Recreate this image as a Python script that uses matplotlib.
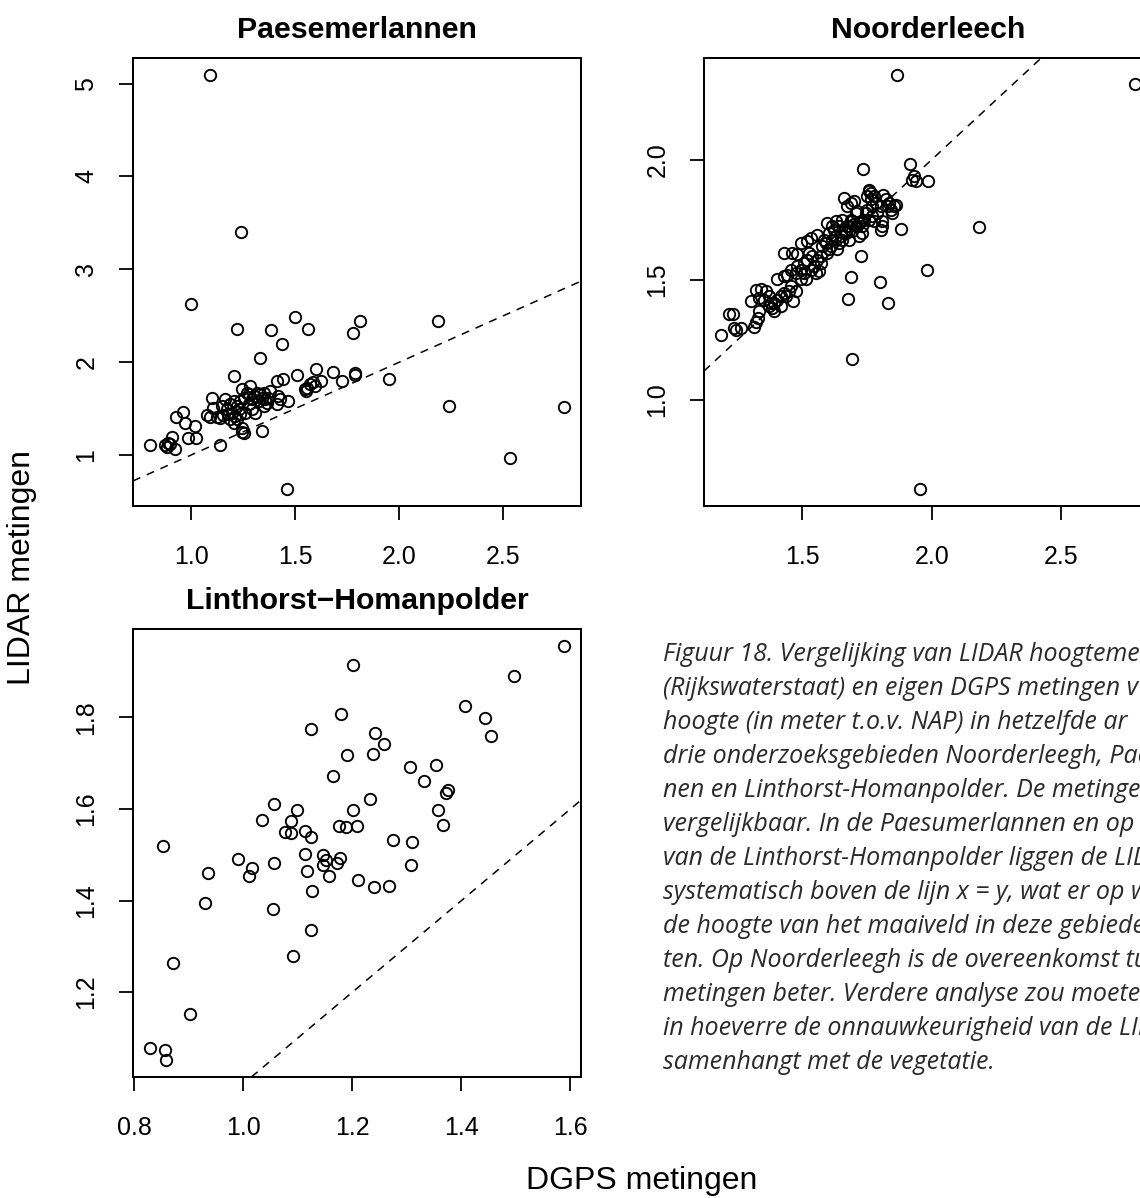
import matplotlib
matplotlib.use("Agg")
import matplotlib.pyplot as plt
from matplotlib.ticker import FixedLocator, FixedFormatter

# ---------------- data ----------------
titles = ["Paesemerlannen", "Noorderleech", "Linthorst\u2212Homanpolder"]

pae_x = [1.091, 1.242, 1.000, 1.223, 1.385, 1.498, 1.5625, 1.439, 1.329, 1.8125, 1.779, 2.1875,
         1.207, 1.949, 2.240, 2.793, 2.534, 1.4615, 0.801, 1.138, 1.343,
         0.875, 0.883, 0.891, 0.899, 0.907, 0.923,
         0.928, 0.960, 0.971, 1.019, 0.987, 1.024,
         1.247, 1.252, 1.244,
         1.508, 1.601, 1.684, 1.726, 1.785, 1.788,
         1.551, 1.556, 1.572, 1.585, 1.625, 1.596, 1.548,
         1.412, 1.441,
         1.103, 1.107, 1.079, 1.091, 1.127, 1.155,
         1.163, 1.188, 1.171, 1.196, 1.212, 1.220, 1.188, 1.204, 1.228, 1.244, 1.252, 1.276,
         1.284, 1.300, 1.316, 1.324, 1.340, 1.348, 1.308, 1.380, 1.412, 1.428, 1.468, 1.236,
         1.260, 1.292, 1.332, 1.356, 1.147, 1.179, 1.220, 1.268, 1.364,
         1.139, 1.204, 1.236, 1.292, 1.348, 1.420, 1.372, 1.276]
pae_y = [5.097, 3.407, 2.629, 2.360, 2.349, 2.489, 2.360, 2.191, 2.040, 2.439, 2.309, 2.439,
         1.850, 1.8215, 1.531, 1.520, 0.964, 0.630, 1.104, 1.104, 1.258,
         1.104, 1.090, 1.133, 1.115, 1.197, 1.068,
         1.409, 1.463, 1.348, 1.312, 1.187, 1.187,
         1.294, 1.240, 1.248,
         1.861, 1.922, 1.893, 1.800, 1.886, 1.861,
         1.689, 1.725, 1.761, 1.786, 1.800, 1.743, 1.707,
         1.800, 1.822,
         1.610, 1.509, 1.430, 1.409, 1.409, 1.427,
         1.606, 1.545, 1.491, 1.456, 1.420, 1.384, 1.384, 1.348, 1.491, 1.707, 1.617, 1.545,
         1.743, 1.635, 1.671, 1.581, 1.617, 1.527, 1.456, 1.689, 1.545, 1.599, 1.581, 1.438,
         1.456, 1.599, 1.653, 1.599, 1.527, 1.438, 1.527, 1.671, 1.563,
         1.402, 1.581, 1.581, 1.491, 1.671, 1.635, 1.617, 1.653]

noo_x = [1.865, 2.787, 2.182, 1.981, 1.956, 1.693, 1.678, 1.689, 1.8015, 1.831, 1.728, 1.880,
         1.733, 1.916, 1.932, 1.938, 1.925, 1.987,
         1.184, 1.216, 1.232, 1.236, 1.242, 1.264, 1.313, 1.320, 1.329, 1.332,
         1.300, 1.320, 1.339, 1.358, 1.371, 1.378, 1.384, 1.390, 1.403, 1.416, 1.429, 1.448,
         1.465, 1.474, 1.403, 1.429, 1.442, 1.455, 1.474, 1.481, 1.494, 1.506, 1.513, 1.519,
         1.532, 1.545, 1.558, 1.564, 1.571, 1.429, 1.461, 1.481, 1.494, 1.519, 1.532, 1.558,
         1.577, 1.584, 1.597, 1.603, 1.610, 1.616, 1.622, 1.629, 1.635, 1.642, 1.648, 1.655,
         1.661, 1.674, 1.680, 1.687, 1.693, 1.700, 1.706, 1.713, 1.719, 1.726, 1.732, 1.738,
         1.751, 1.758, 1.764, 1.771, 1.777, 1.784, 1.790, 1.803, 1.809, 1.813, 1.822, 1.829,
         1.835, 1.842, 1.848, 1.854, 1.861, 1.809, 1.803, 1.659, 1.674, 1.687, 1.700, 1.713,
         1.745, 1.758, 1.771, 1.777,
         1.590, 1.603, 1.616, 1.629, 1.642, 1.655, 1.668, 1.680, 1.693, 1.706, 1.719, 1.732,
         1.597, 1.571, 1.552, 1.539, 1.526, 1.506, 1.494, 1.455, 1.436, 1.416, 1.390, 1.371,
         1.352, 1.332, 1.758, 1.751, 1.764]
noo_y = [2.354, 2.315, 1.721, 1.541, 0.627, 1.169, 1.420, 1.510, 1.491, 1.401, 1.600, 1.712,
         1.963, 1.982, 1.931, 1.910, 1.917, 1.913,
         1.269, 1.359, 1.359, 1.300, 1.290, 1.298, 1.302, 1.323, 1.341, 1.369,
         1.411, 1.459, 1.462, 1.452, 1.431, 1.404, 1.383, 1.369, 1.417, 1.431, 1.445, 1.452,
         1.411, 1.452, 1.501, 1.515, 1.521, 1.542, 1.528, 1.556, 1.542, 1.570, 1.501, 1.584,
         1.542, 1.556, 1.584, 1.535, 1.598, 1.612, 1.612, 1.605, 1.653, 1.660, 1.674, 1.688,
         1.639, 1.667, 1.736, 1.695, 1.639, 1.667, 1.709, 1.743, 1.626, 1.723, 1.681, 1.750,
         1.702, 1.723, 1.667, 1.750, 1.702, 1.730, 1.778, 1.723, 1.681, 1.743, 1.695, 1.750,
         1.792, 1.875, 1.834, 1.806, 1.847, 1.820, 1.778, 1.806, 1.723, 1.854, 1.834, 1.806,
         1.820, 1.792, 1.778, 1.806, 1.813, 1.743, 1.709, 1.841, 1.806, 1.820, 1.827, 1.785,
         1.778, 1.750, 1.764, 1.743,
         1.653, 1.626, 1.723, 1.681, 1.653, 1.667, 1.695, 1.723, 1.743, 1.723, 1.736, 1.723,
         1.612, 1.570, 1.528, 1.598, 1.612, 1.528, 1.501, 1.473, 1.431, 1.390, 1.404, 1.390,
         1.417, 1.424, 1.868, 1.847, 1.861]

lin_x = [1.589, 1.202, 1.496, 1.406, 1.1786, 1.444, 1.454, 1.125, 1.2416, 1.258, 1.190, 1.237,
         1.306, 1.354, 1.332, 1.164, 1.376, 1.3725, 1.233, 1.358, 1.366, 1.201, 1.056, 1.099,
         1.035, 1.0875, 1.076, 1.088, 1.113, 1.1235, 1.1755, 1.188, 1.208, 1.275, 1.310, 1.3076,
         0.852, 0.9896, 1.016, 1.010, 0.935, 1.057, 1.113, 1.146, 1.151, 1.147, 1.172, 1.177,
         1.117, 1.158, 1.210, 1.240, 1.268, 1.1266, 0.9297, 1.054, 1.125, 1.092, 0.871, 0.9015,
         0.828, 0.857, 0.858]
lin_y = [1.957, 1.914, 1.891, 1.826, 1.808, 1.7985, 1.759, 1.774, 1.766, 1.742, 1.717, 1.720,
         1.692, 1.697, 1.661, 1.6726, 1.642, 1.634, 1.6216, 1.597, 1.566, 1.598, 1.610, 1.5976,
         1.577, 1.573, 1.550, 1.547, 1.552, 1.538, 1.562, 1.560, 1.562, 1.533, 1.528, 1.478,
         1.520, 1.490, 1.471, 1.453, 1.461, 1.482, 1.502, 1.499, 1.488, 1.478, 1.482, 1.493,
         1.464, 1.453, 1.446, 1.429, 1.432, 1.4214, 1.394, 1.381, 1.3354, 1.280, 1.263, 1.152,
         1.079, 1.073, 1.051]

pae_xticks = [1.0, 1.5, 2.0, 2.5]
pae_yticks = [1, 2, 3, 4, 5]
noo_xticks = [1.5, 2.0, 2.5]
noo_yticks = [1.0, 1.5, 2.0]
lin_xticks = [0.8, 1.0, 1.2, 1.4, 1.6]
lin_yticks = [1.2, 1.4, 1.6, 1.8]

xlabel = "DGPS metingen"
ylabel = "LIDAR metingen"

# caption as visible in the (right-cropped) reference
caption_lines = [
    "Figuur 18. Vergelijking van LIDAR hoogteme",
    "(Rijkswaterstaat) en eigen DGPS metingen v",
    "hoogte (in meter t.o.v. NAP) in hetzelfde ar",
    "drie onderzoeksgebieden Noorderleegh, Pae",
    "nen en Linthorst-Homanpolder. De metingen",
    "vergelijkbaar. In de Paesumerlannen en op d",
    "van de Linthorst-Homanpolder liggen de LID",
    "systematisch boven de lijn x = y, wat er op w",
    "de hoogte van het maaiveld in deze gebieden",
    "ten. Op Noorderleegh is de overeenkomst tu",
    "metingen beter. Verdere analyse zou moeten",
    "in hoeverre de onnauwkeurigheid van de LID",
    "samenhangt met de vegetatie.",
]

# ---------------- style ----------------
W, H = 1140, 1198
plt.rcParams["font.family"] = ["Liberation Sans", "DejaVu Sans"]
plt.rcParams["lines.scale_dashes"] = False
fig = plt.figure(figsize=(W / 100, H / 100), dpi=100)


def px_axes(left, top, w, h):
    return fig.add_axes([left / W, 1 - (top + h) / H, w / W, h / H])


def r_limits(v):
    lo, hi = min(v), max(v)
    r = hi - lo
    return lo - 0.04 * r, hi + 0.04 * r


panels = [
    (133, 58, pae_x, pae_y, pae_xticks, pae_yticks, "{:.1f}", "{:d}", titles[0]),
    (704, 58, noo_x, noo_y, noo_xticks, noo_yticks, "{:.1f}", "{:.1f}", titles[1]),
    (133, 629, lin_x, lin_y, lin_xticks, lin_yticks, "{:.1f}", "{:.1f}", titles[2]),
]

for left, top, xs, ys, xt, yt, fx, fy, title in panels:
    ax = px_axes(left, top, 448, 448)
    ax.plot(xs, ys, linestyle="none", marker="o", markersize=8.2,
            markerfacecolor="none", markeredgecolor="black", markeredgewidth=1.35)
    ax.set_xlim(*r_limits(xs))
    ax.set_ylim(*r_limits(ys))
    ax.axline((0, 0), (1, 1), color="black", linewidth=1.1, dashes=[5.8, 5.0])
    ax.xaxis.set_major_locator(FixedLocator(xt))
    ax.xaxis.set_major_formatter(FixedFormatter([fx.format(v) for v in xt]))
    ax.yaxis.set_major_locator(FixedLocator(yt))
    ax.yaxis.set_major_formatter(FixedFormatter([fy.format(v) for v in yt]))
    ax.tick_params(axis="both", direction="out", length=10, width=1.3, labelsize=18,
                   colors="black")
    ax.tick_params(axis="x", pad=18)
    ax.tick_params(axis="y", pad=15)
    for lab in ax.get_yticklabels():
        lab.set_rotation(90)
        lab.set_va("center")
    for s in ax.spines.values():
        s.set_linewidth(1.45)
    ax.set_title(title, fontsize=21.8, fontweight="bold", pad=14.5)

fig.text(22 / W, 1 - 567.5 / H, ylabel, rotation=90, ha="center", va="center", fontsize=23)
fig.text(642 / W, 1 - 1181 / H, xlabel, ha="center", va="center", fontsize=23)

for i, line in enumerate(caption_lines):
    fig.text(663 / W, 1 - (661 + 34 * i) / H, line, ha="left", va="baseline",
             fontsize=18, style="italic", family=["Open Sans", "DejaVu Sans"],
             color="#2a2a2a")

fig.savefig("out.png", dpi=100)
